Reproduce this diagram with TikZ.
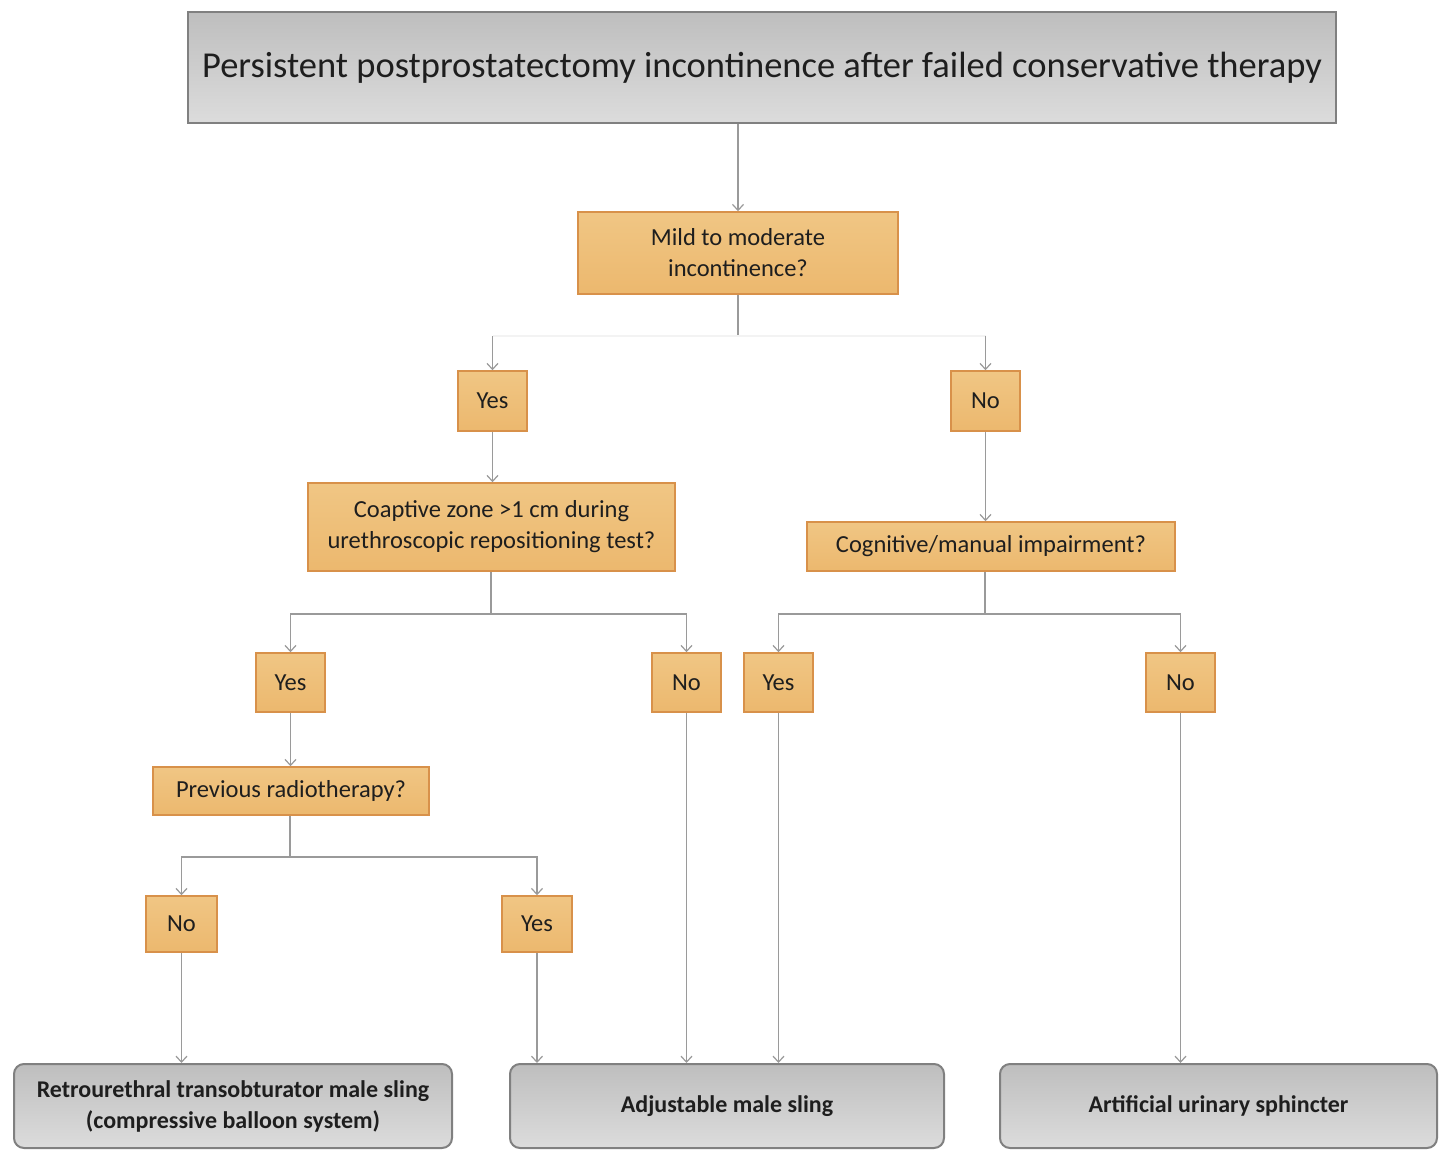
\documentclass[tikz,border=0pt]{standalone}
\usepackage{fontspec}
\setmainfont{Carlito}
\usetikzlibrary{arrows.meta}
\definecolor{obord}{HTML}{D8914A}
\definecolor{otop}{HTML}{F0C684}
\definecolor{omid}{HTML}{FAE6C6}
\definecolor{obot}{HTML}{ECB86E}
\definecolor{gbord}{HTML}{808080}
\definecolor{gtop}{HTML}{BEBEBE}
\definecolor{gbot}{HTML}{DCDCDC}
\definecolor{lnc}{HTML}{9A9A9A}
\definecolor{txt}{HTML}{1E1E1E}
\tikzset{
  obox/.style={draw=obord, line width=1.5pt, top color=otop, middle color=omid, bottom color=obot,
    text=txt, align=center, inner sep=0pt, font=\fontsize{24.5}{31}\selectfont},
  gbox/.style={draw=gbord, line width=2pt, top color=gtop, bottom color=gbot,
    text=txt, align=center, inner sep=0pt},
  bbox/.style={gbox, rounded corners=10pt, minimum height=84pt, font=\bfseries\fontsize{24}{31}\selectfont},
  lnk/.style={draw=lnc, line width=1.3pt},
  faint/.style={draw=lnc!12, line width=1.3pt},
  arr/.style={lnk, -{Straight Barb[length=6pt,width=11pt,line width=1.2pt]}},
}
\begin{document}
\begin{tikzpicture}[x=1pt,y=-1pt]
\useasboundingbox[fill=white] (0,0) rectangle (1441,1151);
% top box
\node[gbox, minimum width=1148pt, minimum height=111pt, font=\fontsize{36.5}{40}\selectfont] (top) at (762,67.5)
  {Persistent postprostatectomy incontinence after failed conservative therapy};
\node[obox, minimum width=320pt, minimum height=82pt] (mild) at (738,253) {Mild to moderate\\incontinence?};
\node[obox, minimum width=69pt, minimum height=60pt] (yes1) at (492.5,401) {Yes};
\node[obox, minimum width=69pt, minimum height=60pt] (no1) at (985.5,401) {No};
\node[obox, minimum width=367pt, minimum height=88pt] (coap) at (491.5,527) {Coaptive zone >1 cm during\\urethroscopic repositioning test?};
\node[obox, minimum width=368pt, minimum height=49pt] (cogn) at (991,546.5) {Cognitive/manual impairment?};
\node[obox, minimum width=69pt, minimum height=59pt] (yes2) at (290.5,682.5) {Yes};
\node[obox, minimum width=69pt, minimum height=59pt] (no2) at (686.5,682.5) {No};
\node[obox, minimum width=69pt, minimum height=59pt] (yes3) at (778.5,682.5) {Yes};
\node[obox, minimum width=69pt, minimum height=59pt] (no3) at (1180.5,682.5) {No};
\node[obox, minimum width=276pt, minimum height=48pt] (prev) at (291,791) {Previous radiotherapy?};
\node[obox, minimum width=71pt, minimum height=56pt] (no4) at (181.5,924) {No};
\node[obox, minimum width=70pt, minimum height=56pt] (yes4) at (537,924) {Yes};
% bottom boxes
\node[bbox, minimum width=438pt] (b1) at (233,1106)
  {Retrourethral transobturator male sling\\(compressive balloon system)};
\node[bbox, minimum width=434pt] (b2) at (727,1106)
  {Adjustable male sling};
\node[bbox, minimum width=437pt] (b3) at (1218.5,1106)
  {Artificial urinary sphincter};
% junctions
\coordinate (j1) at (738,336);
\coordinate (j1l) at (492.5,336);
\coordinate (j1r) at (985.5,336);
\coordinate (j2) at (491,614);
\coordinate (j3) at (985,614);
\coordinate (j4) at (290,857);
% connectors
\draw[arr] (top.south -| mild.north) -- (mild.north);
\draw[lnk] (mild.south) -- (j1);
\draw[faint] (j1l) -- (j1r);
\draw[arr] (j1l) -- (yes1.north);
\draw[arr] (j1r) -- (no1.north);
\draw[arr] (yes1.south) -- (coap.north -| yes1.south);
\draw[arr] (no1.south) -- (cogn.north -| no1.south);
\draw[lnk] (coap.south -| j2) -- (j2);
\draw[arr] (j2) -| (yes2.north);
\draw[arr] (j2) -| (no2.north);
\draw[lnk] (cogn.south -| j3) -- (j3);
\draw[arr] (j3) -| (yes3.north);
\draw[arr] (j3) -| (no3.north);
\draw[arr] (yes2.south) -- (prev.north -| yes2.south);
\draw[lnk] (prev.south -| j4) -- (j4);
\draw[arr] (j4) -| (no4.north);
\draw[arr] (j4) -| (yes4.north);
\draw[arr] (no4.south) -- (b1.north -| no4.south);
\draw[arr] (yes4.south) -- (b2.north -| yes4.south);
\draw[arr] (no2.south) -- (b2.north -| no2.south);
\draw[arr] (yes3.south) -- (b2.north -| yes3.south);
\draw[arr] (no3.south) -- (b3.north -| no3.south);
\end{tikzpicture}
\end{document}
